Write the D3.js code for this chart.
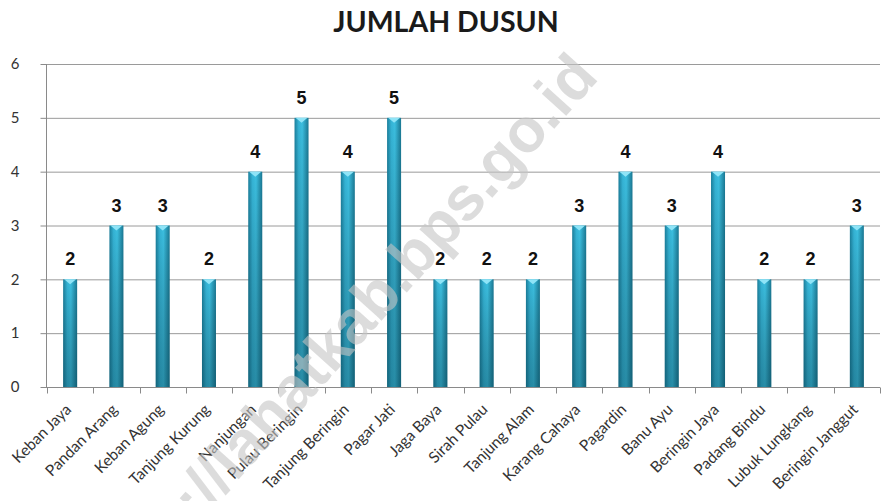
<!DOCTYPE html>
<html>
<head>
<meta charset="utf-8">
<script src="https://cdn.jsdelivr.net/npm/d3@7"></script>
<style>
  body { margin: 0; background: #fff; }
  svg { display: block; }
</style>
</head>
<body>
<div id="chart"></div>
<script>
// data
const desa = ["Keban Jaya", "Pandan Arang", "Keban Agung", "Tanjung Kurung", "Nanjungan",
  "Pulau Beringin", "Tanjung Beringin", "Pagar Jati", "Jaga Baya", "Sirah Pulau",
  "Tanjung Alam", "Karang Cahaya", "Pagardin", "Banu Ayu", "Beringin Jaya",
  "Padang Bindu", "Lubuk Lungkang", "Beringin Janggut"]
const jumlahDusun = [2, 3, 3, 2, 4, 5, 4, 5, 2, 2, 2, 3, 4, 3, 4, 2, 2, 3]
const yTicks = [0, 1, 2, 3, 4, 5, 6]

const width = 881
const height = 501
const margin = {top: 64, right: 1, bottom: 114, left: 47}

const svg = d3.select("#chart")
  .append("svg")
    .attr("width", width)
    .attr("height", height)

// gradients for the cylinder look
const defs = svg.append("defs")
const hg = defs.append("linearGradient").attr("id", "barH")
  .attr("x1", "0%").attr("x2", "100%").attr("y1", "0%").attr("y2", "0%")
hg.append("stop").attr("offset", "0%").attr("stop-color", "#1b7f9c")
hg.append("stop").attr("offset", "30%").attr("stop-color", "#35b4d6")
hg.append("stop").attr("offset", "55%").attr("stop-color", "#3cbfe0")
hg.append("stop").attr("offset", "100%").attr("stop-color", "#1a7893")

const vg = defs.append("linearGradient").attr("id", "barV")
  .attr("x1", "0%").attr("x2", "0%").attr("y1", "0%").attr("y2", "100%")
vg.append("stop").attr("offset", "0%").attr("stop-color", "#000").attr("stop-opacity", 0)
vg.append("stop").attr("offset", "100%").attr("stop-color", "#03303d").attr("stop-opacity", 0.35)

const x = d3.scaleBand()
  .domain(desa)
  .range([margin.left, width - margin.right])

const y = d3.scaleLinear()
  .domain([0, 6])
  .range([height - margin.bottom, margin.top])

// title
svg.append("text")
  .attr("x", 446)
  .attr("y", 32)
  .attr("text-anchor", "middle")
  .style("font-family", "Lato, 'Open Sans', sans-serif")
  .style("font-weight", "bold")
  .style("font-size", "28.5px")
  .style("fill", "#1a1a1a")
  .text("JUMLAH DUSUN")

// gridlines
svg.append("g")
  .selectAll("line")
  .data(yTicks.filter(d => d > 0))
  .join("line")
    .attr("x1", margin.left)
    .attr("x2", width - margin.right)
    .attr("y1", d => y(d) + 0.5)
    .attr("y2", d => y(d) + 0.5)
    .attr("stroke", "#9a9a9a")

// y axis
const yAxis = svg.append("g")
  .attr("transform", `translate(${margin.left - 0.5},0)`)
  .call(d3.axisLeft(y).tickValues(yTicks).tickSize(6).tickPadding(21).tickFormat(d3.format("d")))
yAxis.select(".domain").attr("stroke", "#8a8a8a").attr("d", `M0,${y(6)}V${y(0)}`)
yAxis.selectAll(".tick line").attr("stroke", "#8a8a8a")
yAxis.selectAll(".tick text")
  .style("font-family", "Lato, 'Open Sans', sans-serif")
  .style("font-size", "15px")
  .style("fill", "#333")

// x axis
const xAxis = svg.append("g")
  .attr("transform", `translate(0,${y(0) + 0.5})`)
xAxis.append("line")
  .attr("x1", margin.left - 6).attr("x2", width - margin.right)
  .attr("stroke", "#8a8a8a")
const bounds = desa.map(d => x(d)).concat([x(desa[desa.length - 1]) + x.bandwidth()])
xAxis.selectAll(".xt")
  .data(bounds)
  .join("line")
    .attr("class", "xt")
    .attr("x1", d => Math.round(d) + 0.5)
    .attr("x2", d => Math.round(d) + 0.5)
    .attr("y1", 0)
    .attr("y2", 6)
    .attr("stroke", "#8a8a8a")

xAxis.selectAll(".xl")
  .data(desa)
  .join("text")
    .attr("class", "xl")
    .attr("text-anchor", "end")
    .attr("transform", d => `translate(${x(d) + x.bandwidth() / 2 + 2},${23}) rotate(-45)`)
    .style("font-family", "Lato, 'Open Sans', sans-serif")
    .style("font-size", "15.5px")
    .style("fill", "#333")
    .text(d => d)

// bars
const barW = 14
const bars = svg.append("g")
  .selectAll("g")
  .data(desa)
  .join("g")

bars.append("rect")
  .attr("x", d => x(d) + x.bandwidth() / 2 - barW / 2)
  .attr("y", (d, i) => y(jumlahDusun[i]))
  .attr("width", barW)
  .attr("height", (d, i) => y(0) - y(jumlahDusun[i]))
  .attr("fill", "url(#barH)")

bars.append("rect")
  .attr("x", d => x(d) + x.bandwidth() / 2 - barW / 2)
  .attr("y", (d, i) => y(jumlahDusun[i]))
  .attr("width", barW)
  .attr("height", (d, i) => y(0) - y(jumlahDusun[i]))
  .attr("fill", "url(#barV)")

// little light cap on top
bars.append("path")
  .attr("d", (d, i) => {
    const cx = x(d) + x.bandwidth() / 2
    const ty = y(jumlahDusun[i])
    return `M${cx - barW / 2 + 1},${ty}L${cx + barW / 2 - 1},${ty}L${cx},${ty + 5}Z`
  })
  .attr("fill", "#8fe4f7")

// value labels
bars.append("text")
  .attr("x", d => x(d) + x.bandwidth() / 2)
  .attr("y", (d, i) => y(jumlahDusun[i]) - 14)
  .attr("text-anchor", "middle")
  .style("font-family", "'Liberation Sans', Arial, sans-serif")
  .style("font-weight", "bold")
  .style("font-size", "18px")
  .style("fill", "#111")
  .text((d, i) => jumlahDusun[i])

// watermark
svg.append("text")
  .attr("transform", "translate(600,78) rotate(-48)")
  .attr("text-anchor", "end")
  .style("font-family", "'Liberation Sans', Arial, sans-serif")
  .style("font-weight", "bold")
  .style("font-size", "62px")
  .style("fill", "#c4c4c4")
  .style("fill-opacity", 0.6)
  .text("http://lahatkab.bps.go.id")
</script>
</body>
</html>
